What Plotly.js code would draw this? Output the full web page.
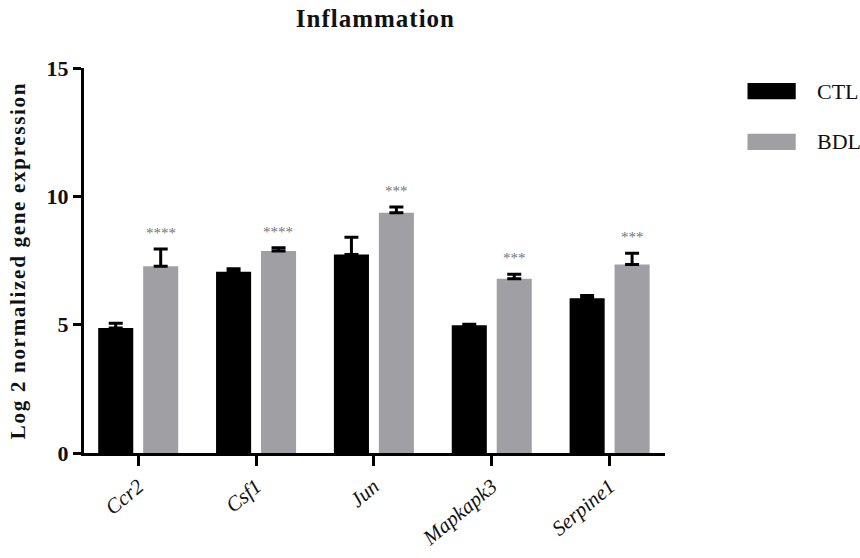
<!DOCTYPE html>
<html>
<head>
<meta charset="utf-8">
<script src="https://cdn.plot.ly/plotly-3.0.1.min.js"></script>
<style>
html,body{margin:0;padding:0;background:#fff;}
#chart{width:860px;height:558px;}
#chart .ytitle{letter-spacing:1.7px;}
#chart .gtitle{letter-spacing:1px;}
</style>
</head>
<body>
<div id="chart"></div>
<script>
const genes = ["Ccr2", "Csf1", "Jun", "Mapkapk3", "Serpine1"];
const ctlMean = [4.87, 7.06, 7.73, 4.98, 6.03];
const ctlErr = [0.19, 0.12, 0.68, 0.04, 0.11];
const bdlMean = [7.28, 7.87, 9.36, 6.79, 7.34];
const bdlErr = [0.67, 0.13, 0.22, 0.17, 0.44];
const stars = ["****", "****", "***", "***", "***"];
const seriesNames = ["CTL", "BDL"];

const serif = "Liberation Serif, Times New Roman, serif";
const gray = "#a0a0a4";

const errStyle = {type: "data", symmetric: false, arrayminus: [0,0,0,0,0], color: "#000", thickness: 3, width: 7};

const traces = [
  {type: "bar", name: seriesNames[0], x: genes, y: ctlMean, marker: {color: "#000"},
   error_y: Object.assign({}, errStyle, {array: ctlErr})},
  {type: "bar", name: seriesNames[1], x: genes, y: bdlMean, marker: {color: gray},
   error_y: Object.assign({}, errStyle, {array: bdlErr})}
];

const annotations = genes.map((g, i) => ({
  x: i + 0.19, y: bdlMean[i] + bdlErr[i], xref: "x", yref: "y",
  text: stars[i], showarrow: false, yanchor: "bottom", yshift: 6,
  font: {family: serif, size: 15, color: "#747474"}
}));

// custom legend
const legendY = [0.94, 0.808];
const legendColors = ["#000", gray];
const shapes = [];
seriesNames.forEach((n, i) => {
  shapes.push({type: "rect", xref: "paper", yref: "paper",
    x0: 1.142, x1: 1.225, y0: legendY[i] - 0.021, y1: legendY[i] + 0.021,
    fillcolor: legendColors[i], line: {width: 0}});
  annotations.push({xref: "paper", yref: "paper", x: 1.258, y: legendY[i],
    text: n, showarrow: false, xanchor: "left", yanchor: "middle",
    font: {family: serif, size: 22, color: "#111"}});
});

const layout = {
  width: 860, height: 558,
  margin: {l: 84, r: 195, t: 68, b: 105},
  paper_bgcolor: "#fff", plot_bgcolor: "#fff",
  title: {text: "Inflammation", x: 0.4365, xanchor: "center", y: 0.968, yanchor: "middle",
    font: {family: serif, size: 25, weight: "bold", color: "#111"}},
  showlegend: false,
  barmode: "group", bargap: 0.237, bargroupgap: 0.22,
  xaxis: {
    type: "category", range: [-0.46, 4.47],
    showline: true, linecolor: "#000", linewidth: 3,
    ticks: "outside", ticklen: 10, tickwidth: 3, tickcolor: "#000",
    tickangle: -40, showgrid: false, zeroline: false,
    tickfont: {family: serif, size: 21, style: "italic", color: "#111"}
  },
  yaxis: {
    range: [0, 15], tickvals: [0, 5, 10, 15],
    showline: true, linecolor: "#000", linewidth: 3,
    ticks: "outside", ticklen: 8, tickwidth: 3, tickcolor: "#000",
    showgrid: false, zeroline: false,
    tickfont: {family: serif, size: 22, weight: "bold", color: "#111"},
    title: {text: "Log 2 normalized gene expression", standoff: 16,
      font: {family: serif, size: 21, weight: "bold", color: "#111"}}
  },
  annotations: annotations,
  shapes: shapes
};

Plotly.newPlot("chart", traces, layout, {displayModeBar: false, staticPlot: true});
</script>
</body>
</html>
